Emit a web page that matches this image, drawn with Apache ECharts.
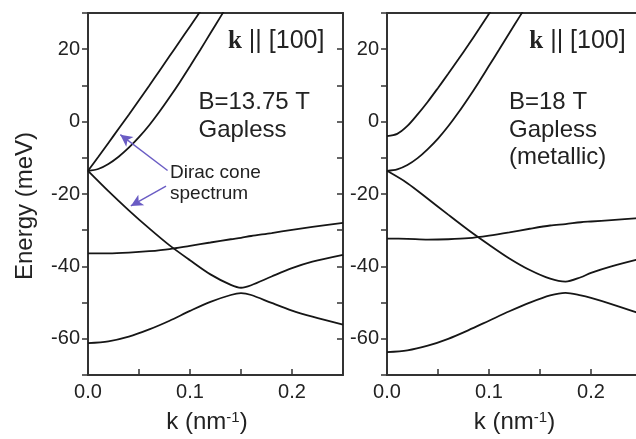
<!DOCTYPE html>
<html>
<head>
<meta charset="utf-8">
<script src="https://cdn.jsdelivr.net/npm/echarts@6/dist/echarts.min.js"></script>
<style>
html,body{margin:0;padding:0;background:#fff;overflow:hidden;width:636px;height:439px;}
#chart{width:660px;height:439px;}
</style>
</head>
<body>
<div id="chart"></div>
<script>
// ---- Data (k in nm^-1, E in meV) ----
// Left panel: B = 13.75 T
const kLeftUp1 = [0, 0.01, 0.02, 0.03, 0.04, 0.05, 0.06, 0.07, 0.08, 0.09, 0.10, 0.11];
const eLeftUp1 = [-13.6, -9.8, -5.9, -2.0, 1.9, 5.9, 9.9, 14.0, 18.1, 22.2, 26.3, 30.4];
const kLeftUp2 = [0, 0.01, 0.02, 0.03, 0.04, 0.05, 0.06, 0.07, 0.08, 0.09, 0.10, 0.11, 0.12, 0.13, 0.14];
const eLeftUp2 = [-13.6, -13.1, -11.7, -9.7, -7.2, -4.3, -1.0, 2.7, 6.7, 10.9, 15.3, 19.8, 24.4, 29.0, 33.6];
const kLeftBands = [0, 0.02, 0.04, 0.06, 0.08, 0.10, 0.12, 0.14, 0.15, 0.16, 0.18, 0.20, 0.22, 0.25];
const eLeftDirac = [-13.6, -19.2, -24.5, -29.5, -34.2, -38.3, -42.2, -45.1, -45.9, -45.2, -42.8, -40.5, -38.7, -36.8];
const eLeftFlat  = [-36.4, -36.4, -36.2, -35.8, -35.2, -34.3, -33.4, -32.5, -32.1, -31.6, -30.8, -29.9, -29.1, -28.0];
const eLeftLow   = [-61.2, -60.7, -59.4, -57.4, -55.0, -52.3, -49.8, -47.9, -47.4, -47.9, -50.1, -52.2, -53.9, -56.1];

// Right panel: B = 18 T
const kRightUp1 = [0, 0.01, 0.02, 0.03, 0.04, 0.05, 0.06, 0.07, 0.08, 0.09, 0.10, 0.105];
const eRightUp1 = [-4.0, -3.4, -1.2, 2.0, 5.5, 9.3, 13.2, 17.2, 21.3, 25.5, 29.8, 32.0];
const kRightUp2 = [0, 0.01, 0.02, 0.03, 0.04, 0.05, 0.06, 0.07, 0.08, 0.09, 0.10, 0.11, 0.12, 0.13, 0.14];
const eRightUp2 = [-13.6, -13.2, -12.0, -10.1, -7.6, -4.7, -1.3, 2.5, 6.6, 10.9, 15.4, 19.9, 24.5, 29.0, 33.5];
const kRightBands = [0, 0.02, 0.04, 0.06, 0.08, 0.10, 0.12, 0.14, 0.16, 0.175, 0.19, 0.20, 0.22, 0.25];
const eRightDirac = [-13.6, -17.0, -21.3, -25.7, -30.0, -34.0, -37.8, -41.0, -43.4, -44.2, -43.0, -41.8, -40.0, -37.8];
const eRightFlat  = [-32.3, -32.4, -32.6, -32.5, -32.2, -31.5, -30.6, -29.6, -28.7, -28.3, -27.8, -27.6, -27.2, -26.6];
const eRightLow   = [-63.7, -63.2, -61.9, -60.0, -57.6, -55.0, -52.4, -50.0, -48.0, -47.3, -48.0, -48.7, -50.4, -53.2];

// Tick labels
const xTickLabels = ['0.0', '0.1', '0.2'];
const yTickLabels = ['-60', '-40', '-20', '0', '20'];

// ---- Helpers ----
const zip = (ks, es) => ks.map((k, i) => [k, es[i]]);
const FONT = '"Liberation Sans", Arial, sans-serif';
const SERIF = '"Liberation Serif", "Times New Roman", serif';
const AX = '#333';
const LINE = '#161616';
const PURPLE = '#6a5cc4';

function xLabel(v) {
  const s = (Math.round(v * 100) / 100).toFixed(1);
  return (Math.abs(v * 10 - Math.round(v * 10)) < 1e-6 && xTickLabels.indexOf(s) >= 0) ? s : '';
}
function yLabel(v) {
  const s = String(Math.round(v));
  return yTickLabels.indexOf(s) >= 0 ? s : '';
}

function bottomX(grid, namePad) {
  return {
    type: 'value', gridIndex: grid, position: 'bottom', min: 0, max: 0.25, interval: 0.05,
    axisLine: { show: true, onZero: false, lineStyle: { color: AX, width: 2 } },
    axisTick: { show: true, inside: true, length: 6, lineStyle: { color: AX, width: 1.5 } },
    axisLabel: { formatter: xLabel, fontFamily: FONT, fontSize: 20, color: '#222', margin: 7, showMinLabel: true, showMaxLabel: true },
    splitLine: { show: false },
    name: 'k (nm{sup|-1})', nameLocation: 'middle', nameGap: 35,
    nameTextStyle: {
      fontFamily: FONT, fontSize: 24, color: '#222', padding: namePad,
      rich: { sup: { fontFamily: FONT, fontSize: 15, color: '#222', verticalAlign: 'top' } }
    }
  };
}
function topX(grid) {
  return {
    type: 'value', gridIndex: grid, position: 'top', min: 0, max: 0.25, interval: 0.05,
    axisLine: { show: true, onZero: false, lineStyle: { color: AX, width: 2 } },
    axisTick: { show: false }, axisLabel: { show: false }, splitLine: { show: false }
  };
}
function leftY(grid, withName) {
  const ax = {
    type: 'value', gridIndex: grid, position: 'left', min: -70, max: 30, interval: 10,
    axisLine: { show: true, onZero: false, lineStyle: { color: AX, width: 2 } },
    axisTick: { show: true, inside: false, length: 6, lineStyle: { color: AX, width: 1.5 } },
    axisLabel: { formatter: yLabel, fontFamily: FONT, fontSize: 20, color: '#222', margin: 8 },
    splitLine: { show: false }
  };
  if (withName) {
    Object.assign(ax, {
      name: 'Energy (meV)', nameLocation: 'middle', nameGap: 51, nameRotate: 90,
      nameTextStyle: { fontFamily: FONT, fontSize: 24, color: '#222', padding: [0, 24, 0, 0] }
    });
  }
  return ax;
}
function rightY(grid) {
  return {
    type: 'value', gridIndex: grid, position: 'right', min: -70, max: 30, interval: 10,
    axisLine: { show: true, onZero: false, lineStyle: { color: AX, width: 2 } },
    axisTick: { show: true, inside: true, length: 6, lineStyle: { color: AX, width: 1.5 } },
    axisLabel: { show: false }, splitLine: { show: false }
  };
}
function curve(data, xi, yi, extra) {
  return Object.assign({
    type: 'line', data: data, xAxisIndex: xi, yAxisIndex: yi,
    showSymbol: false, symbol: 'none', smooth: 0.3, silent: true,
    lineStyle: { color: LINE, width: 1.8 }, animation: false, z: 3
  }, extra || {});
}
function dirLabel(x) {
  return { type: 'text', x: x, y: 41.5, style: { text: '{b|k} || [100]', font: '25px ' + FONT, fill: '#222', verticalAlign: 'middle',
    rich: { b: { fontFamily: SERIF, fontWeight: 'bold', fontSize: 25, fill: '#222' } } } };
}

const chart = echarts.init(document.getElementById('chart'), null, { renderer: 'canvas' });

const option = {
  animation: false,
  backgroundColor: '#fff',
  grid: [
    { left: 88, top: 13, width: 255, height: 365 },
    { left: 387, top: 13, width: 255, height: 365 }
  ],
  xAxis: [bottomX(0, [0, 17, 0, 0]), topX(0), bottomX(1, [0, 0, 0, 0]), topX(1)],
  yAxis: [leftY(0, true), rightY(0), leftY(1, false), rightY(1)],
  series: [
    curve(zip(kLeftUp1, eLeftUp1), 0, 0, {
      markLine: {
        silent: true, symbol: ['none', 'arrow'], symbolSize: [9, 12],
        label: { show: false },
        lineStyle: { color: PURPLE, width: 1.4, type: 'solid' },
        data: [
          [{ coord: [0.078, -13.5] }, { coord: [0.0317, -3.6] }],
          [{ coord: [0.0765, -17.8] }, { coord: [0.042, -23.3] }]
        ]
      }
    }),
    curve(zip(kLeftUp2, eLeftUp2), 0, 0),
    curve(zip(kLeftBands, eLeftDirac), 0, 0),
    curve(zip(kLeftBands, eLeftFlat), 0, 0),
    curve(zip(kLeftBands, eLeftLow), 0, 0),
    curve(zip(kRightUp1, eRightUp1), 2, 2),
    curve(zip(kRightUp2, eRightUp2), 2, 2),
    curve(zip(kRightBands, eRightDirac), 2, 2),
    curve(zip(kRightBands, eRightFlat), 2, 2),
    curve(zip(kRightBands, eRightLow), 2, 2)
  ],
  graphic: [
    dirLabel(228),
    { type: 'text', x: 198.5, y: 102.7, style: { text: 'B=13.75 T', font: '24px ' + FONT, fill: '#222', verticalAlign: 'middle' } },
    { type: 'text', x: 198.5, y: 130.2, style: { text: 'Gapless', font: '24px ' + FONT, fill: '#222', verticalAlign: 'middle' } },
    { type: 'text', x: 170, y: 172.4, style: { text: 'Dirac cone', font: '19px ' + FONT, fill: '#222', verticalAlign: 'middle' } },
    { type: 'text', x: 170, y: 193.4, style: { text: 'spectrum', font: '19px ' + FONT, fill: '#222', verticalAlign: 'middle' } },
    dirLabel(529.3),
    { type: 'text', x: 509, y: 102.7, style: { text: 'B=18 T', font: '24px ' + FONT, fill: '#222', verticalAlign: 'middle' } },
    { type: 'text', x: 509, y: 130.2, style: { text: 'Gapless', font: '24px ' + FONT, fill: '#222', verticalAlign: 'middle' } },
    { type: 'text', x: 509, y: 157.7, style: { text: '(metallic)', font: '24px ' + FONT, fill: '#222', verticalAlign: 'middle' } }
  ]
};
chart.setOption(option);
</script>
</body>
</html>
